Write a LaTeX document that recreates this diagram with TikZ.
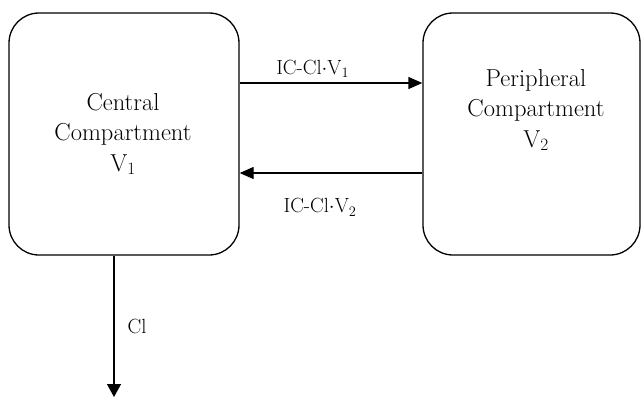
\documentclass[tikz,border=0pt]{standalone}
\usetikzlibrary{arrows.meta}

\begin{document}
\begin{tikzpicture}[x=1pt,y=-1pt]

    \useasboundingbox (0,0) rectangle (641,399);

    \begin{scope}[every node/.style={draw,rounded corners=30pt,line width=1.3pt,minimum height=242pt,inner sep=0pt}]
        \node[minimum width=230pt] (cbox) at (124,134) {};
        \node[minimum width=217pt] (pbox) at (531.5,134) {};
    \end{scope}

    \begin{scope}[every node/.style={align=center,font=\fontsize{24.5}{30.5}\selectfont}]
        \node (ctext) at (123,134) {Central\\Compartment\\V$_1$};
        \node (ptext) at (536,110) {Peripheral\\Compartment\\V$_2$};
    \end{scope}

    \coordinate (clout) at (114,397); % elimination %

    \begin{scope}[every node/.style={font=\fontsize{20.5}{24}\selectfont,inner sep=2pt}, every edge/.style={draw,line width=1.3pt}]
        \path [-{Triangle[length=14pt,width=12pt]}] ([yshift=51pt]cbox.east) edge node[above=3pt,pos=0.4] {IC-Cl$\cdot$V$_1$} ([yshift=51pt]pbox.west);
        \path [-{Triangle[length=14pt,width=12pt]}] ([yshift=-39pt]pbox.west) edge node[below=23pt,pos=0.56] {IC-Cl$\cdot$V$_2$} ([yshift=-39pt]cbox.east);
        \path [-{Triangle[length=13pt,width=14pt]}] ([xshift=-10pt]cbox.south) edge node[right=11pt] {Cl} (clout);
    \end{scope}

\end{tikzpicture}
\end{document}
